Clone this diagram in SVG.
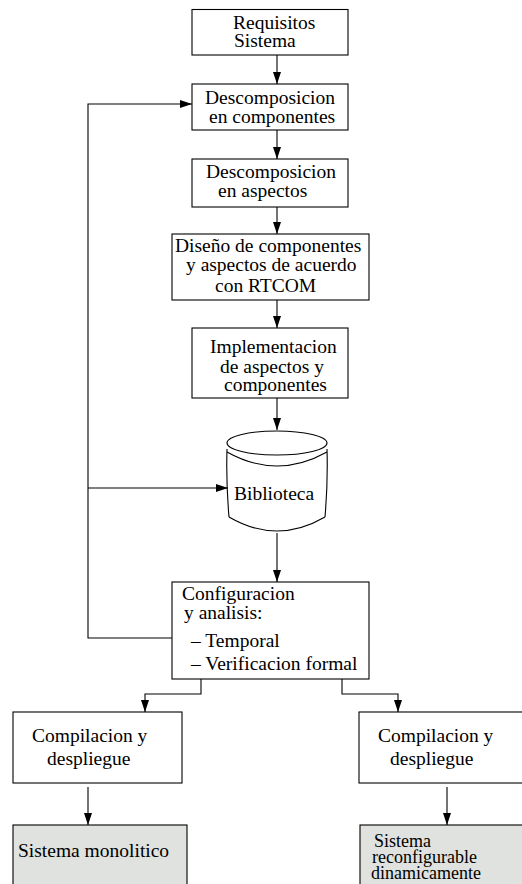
<svg xmlns="http://www.w3.org/2000/svg" width="522" height="884" viewBox="0 0 522 884">
  <style>
    .box { fill: #ffffff; stroke: #000000; stroke-width: 1.1; }
    .out { fill: #dfe2de; stroke: #000000; stroke-width: 1.1; }
    .lbl { font-family: "Liberation Serif", "DejaVu Serif", serif; font-size: 19.5px; fill: #000000; }
    .sm { font-size: 18px; }
    .wire { fill: none; stroke: #000000; stroke-width: 1.1; }
    .arr { marker-end: url(#head); }
  </style>
  <defs>
    <marker id="head" viewBox="0 0 12 8" refX="12" refY="4" markerWidth="12" markerHeight="8" markerUnits="userSpaceOnUse" orient="auto">
      <path d="M0,0 L12,4 L0,8 z" fill="#000000"/>
    </marker>
  </defs>
  <rect width="522" height="884" fill="#ffffff"/>

  <g id="requisitos">
    <rect class="box" x="192" y="9.5" width="156" height="45.5"/>
    <text class="lbl" x="233" y="29">Requisitos</text>
    <text class="lbl" x="234" y="47">Sistema</text>
  </g>

  <g id="desc-componentes">
    <rect class="box" x="192" y="84" width="156" height="46"/>
    <text class="lbl" x="205" y="104">Descomposicion</text>
    <text class="lbl" x="209" y="123">en componentes</text>
  </g>

  <g id="desc-aspectos">
    <rect class="box" x="192" y="159" width="156" height="48"/>
    <text class="lbl" x="206" y="178">Descomposicion</text>
    <text class="lbl" x="218" y="197">en aspectos</text>
  </g>

  <g id="diseno">
    <rect class="box" x="172" y="234" width="197" height="66"/>
    <text class="lbl" x="175" y="252">Diseño de componentes</text>
    <text class="lbl" x="186" y="271">y aspectos de acuerdo</text>
    <text class="lbl" x="215" y="292">con RTCOM</text>
  </g>

  <g id="implementacion">
    <rect class="box" x="192" y="328" width="156" height="70"/>
    <text class="lbl" x="210" y="353">Implementacion</text>
    <text class="lbl" x="220" y="373">de aspectos y</text>
    <text class="lbl" x="224" y="391">componentes</text>
  </g>

  <g id="biblioteca">
    <ellipse class="box" cx="277" cy="443" rx="50" ry="12"/>
    <path class="wire" d="M227,449 Q226,483 229,517"/>
    <path class="wire" d="M327,449 Q328,483 325,517"/>
    <path class="wire" d="M227,452 Q277,480 327,452"/>
    <path class="wire" d="M229,517 Q277,545 325,517"/>
    <text class="lbl" x="234" y="500">Biblioteca</text>
  </g>

  <g id="configuracion">
    <rect class="box" x="172" y="582" width="197" height="97"/>
    <text class="lbl" x="182" y="600">Configuracion</text>
    <text class="lbl" x="184" y="619">y analisis:</text>
    <text class="lbl" x="191" y="647">– Temporal</text>
    <text class="lbl" x="191" y="670">– Verificacion formal</text>
  </g>

  <g id="compilacion-izq">
    <rect class="box" x="13" y="712" width="169" height="71"/>
    <text class="lbl" x="32" y="742">Compilacion y</text>
    <text class="lbl" x="47" y="765">despliegue</text>
  </g>

  <g id="compilacion-der">
    <rect class="box" x="359" y="712" width="170" height="71"/>
    <text class="lbl" x="378" y="742">Compilacion y</text>
    <text class="lbl" x="390" y="765">despliegue</text>
  </g>

  <g id="monolitico">
    <rect class="out" x="13" y="825" width="174" height="70"/>
    <text class="lbl" x="18" y="857">Sistema monolitico</text>
  </g>

  <g id="reconfigurable">
    <rect class="out" x="360" y="825" width="170" height="70"/>
    <text class="lbl sm" x="374" y="847">Sistema</text>
    <text class="lbl sm" x="372" y="863">reconfigurable</text>
    <text class="lbl sm" x="371" y="879">dinamicamente</text>
  </g>

  <g id="connectors">
    <line class="wire arr" x1="277" y1="55" x2="277" y2="84"/>
    <line class="wire arr" x1="277" y1="130" x2="277" y2="159"/>
    <line class="wire arr" x1="277" y1="207" x2="277" y2="234"/>
    <line class="wire arr" x1="277" y1="300" x2="277" y2="328"/>
    <line class="wire arr" x1="277" y1="398" x2="277" y2="430"/>
    <line class="wire arr" x1="277" y1="533" x2="277" y2="582"/>
    <polyline class="wire arr" points="172,638 88,638 88,104 192,104"/>
    <line class="wire arr" x1="88" y1="488" x2="228" y2="488"/>
    <polyline class="wire arr" points="201,679 201,694 145,694 145,712"/>
    <polyline class="wire arr" points="342,679 342,694 398,694 398,712"/>
    <line class="wire arr" x1="88" y1="787" x2="88" y2="825"/>
    <line class="wire arr" x1="447" y1="787" x2="447" y2="825"/>
  </g>
</svg>
